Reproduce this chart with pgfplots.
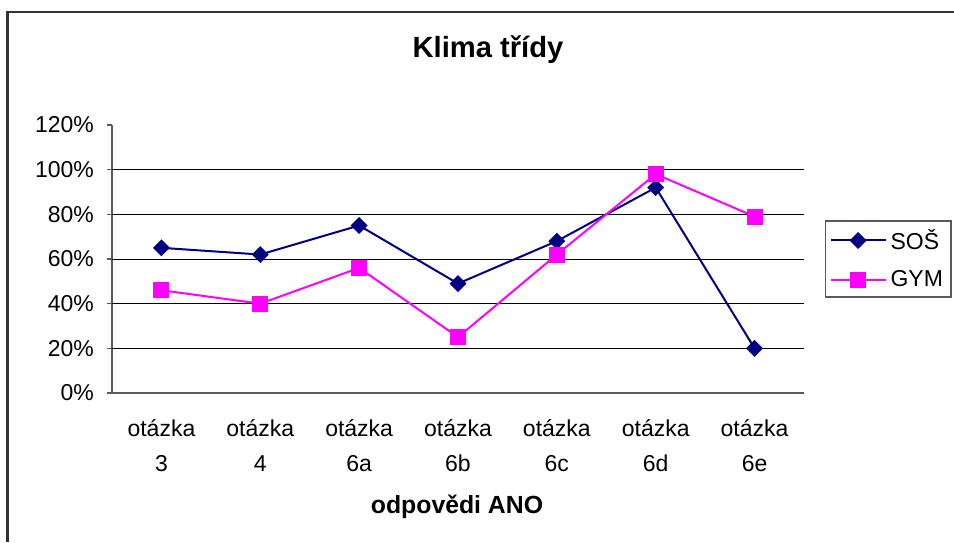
\documentclass[border=0pt]{standalone}
\usepackage{fontspec}
\setmainfont{Liberation Sans}
\usepackage{pgfplots}
\pgfplotsset{compat=1.18}
\definecolor{sosblue}{RGB}{0,0,128}
\definecolor{gymmag}{RGB}{255,0,255}
\definecolor{framegray}{RGB}{51,51,51}
\begin{document}
\begin{tikzpicture}[x=0.5pt,y=0.5pt]
\useasboundingbox (0,0) rectangle (954,542);
\draw[framegray,line width=1.1pt] (7.5,0) -- (7.5,530) -- (954,530);
\node[font=\fontsize{14.6}{17}\selectfont\bfseries] at (488,492) {Klima třídy};
\node[font=\fontsize{12.4}{14}\selectfont\bfseries] at (457,35) {odpovědi ANO};
\begin{axis}[
  at={(56pt,74.5pt)}, anchor=south west,
  scale only axis, width=346pt, height=134pt,
  xmin=-0.5, xmax=6.5, ymin=0, ymax=120,
  axis x line=bottom, axis y line=left,
  axis line style={-, black!65, line width=0.6pt},
  xtick={0,1,2,3,4,5,6},
  xticklabels={{otázka\\3},{otázka\\4},{otázka\\6a},{otázka\\6b},{otázka\\6c},{otázka\\6d},{otázka\\6e}},
  x tick label style={align=center, font=\fontsize{11.5}{17.5}\selectfont, yshift=-7pt},
  major x tick style={draw=none},
  extra x ticks={-0.5,0.5,1.5,2.5,3.5,4.5,5.5,6.5},
  extra x tick labels={},
  extra x tick style={tick align=outside, major tick length=3.5pt, tick style={black!65, line width=0.6pt}},
  ytick={0,20,40,60,80,100,120},
  yticklabels={0\%,20\%,40\%,60\%,80\%,100\%,120\%},
  y tick label style={font=\fontsize{11.5}{14}\selectfont, xshift=-3pt},
  /pgf/number format/assume math mode=true,
  tick align=outside,
  major tick length=2.5pt,
  tick style={black!65, line width=0.6pt},
  extra y ticks={20,40,60,80,100},
  extra y tick labels={},
  extra y tick style={ymajorgrids=true, major tick length=0pt},
  grid style={black, line width=0.5pt},
  clip=false,
  legend style={at={(1,0.5)}, anchor=west, xshift=10.5pt, draw=black!65, line width=0.6pt,
    font=\fontsize{11.5}{14}\selectfont, row sep=5pt, inner xsep=2pt, inner ysep=2pt,
    legend cell align=left},
  legend image code/.code={\draw[mark repeat=2,mark phase=2] plot coordinates {(0pt,0pt) (13.75pt,0pt) (27.5pt,0pt)};},
]
\addplot[sosblue, line width=1pt, mark=square*, mark size=2.5pt, mark options={rotate=45, solid, fill=sosblue}]
  coordinates {(0,65) (1,62) (2,75) (3,49) (4,68) (5,92) (6,20)};
\addlegendentry{SOŠ}
\addplot[gymmag, line width=1pt, mark=square*, mark size=3.5pt, mark options={solid, fill=gymmag}]
  coordinates {(0,46) (1,40) (2,56) (3,25) (4,62) (5,98) (6,79)};
\addlegendentry{GYM}
\end{axis}
\end{tikzpicture}
\end{document}
